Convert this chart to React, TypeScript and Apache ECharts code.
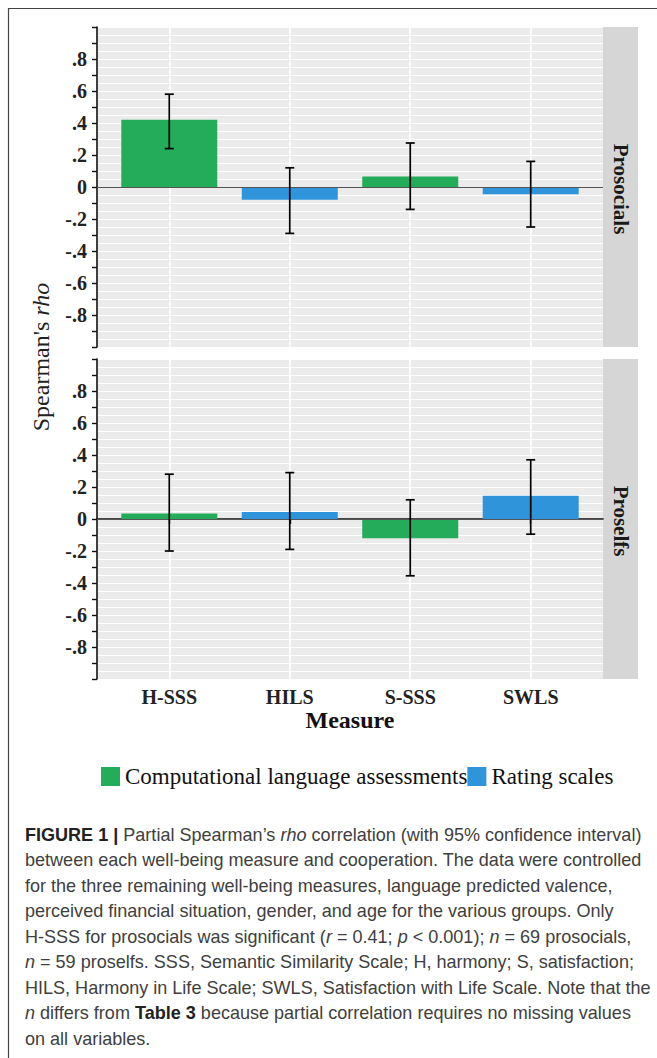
import React, { useEffect, useRef } from "react";
import * as echarts from "echarts";

const categories = ["H-SSS", "HILS", "S-SSS", "SWLS"];
const measureType = [
  "Computational language assessments",
  "Rating scales",
  "Computational language assessments",
  "Rating scales",
];
const seriesNames = ["Computational language assessments", "Rating scales"];
const seriesColors = ["#24AC5A", "#3094DA"];
const panelNames = ["Prosocials", "Proselfs"];

const prosocialRho = [0.42, -0.08, 0.065, -0.045];
const prosocialLow = [0.24, -0.29, -0.14, -0.25];
const prosocialHigh = [0.58, 0.12, 0.275, 0.16];

const proselfRho = [0.035, 0.044, -0.12, 0.145];
const proselfLow = [-0.2, -0.19, -0.355, -0.095];
const proselfHigh = [0.28, 0.29, 0.12, 0.37];

const captionLines = [
  "{b|FIGURE 1 |} Partial Spearman’s {i|rho} correlation (with 95% confidence interval)",
  "between each well-being measure and cooperation. The data were controlled",
  "for the three remaining well-being measures, language predicted valence,",
  "perceived financial situation, gender, and age for the various groups. Only",
  "H-SSS for prosocials was significant ({i|r} = 0.41; {i|p} < 0.001); {i|n} = 69 prosocials,",
  "{i|n} = 59 proselfs. SSS, Semantic Similarity Scale; H, harmony; S, satisfaction;",
  "HILS, Harmony in Life Scale; SWLS, Satisfaction with Life Scale. Note that the",
  "{i|n} differs from {b|Table 3} because partial correlation requires no missing values",
  "on all variables.",
];

const SERIF = "'Liberation Serif', 'Times New Roman', serif";
const SANS = "'Liberation Sans', Arial, sans-serif";

const panelValues = [
  { rho: prosocialRho, low: prosocialLow, high: prosocialHigh },
  { rho: proselfRho, low: proselfLow, high: proselfHigh },
];

const GRID_LEFT = 97;
const GRID_W = 506;
const GRID_H = 320;
const GRID_TOPS = [27, 359];

function yLabel(v: number): string {
  const r = Math.round(v * 10);
  if (Math.abs(r) >= 10 || r % 2 !== 0) return "";
  if (r === 0) return "0";
  return (r < 0 ? "-" : "") + "." + Math.abs(r);
}

export default function App() {
  const ref = useRef<HTMLDivElement>(null);

  useEffect(() => {
    if (!ref.current) return;
    const chart = echarts.init(ref.current, undefined, { renderer: "svg" });

    const grids = GRID_TOPS.map((top) => ({
      left: GRID_LEFT,
      top,
      width: GRID_W,
      height: GRID_H,
      show: true,
      backgroundColor: "#EBEBEB",
      borderWidth: 0,
    }));

    const xAxes = [0, 1].map((i) => ({
      type: "value",
      gridIndex: i,
      min: 0.4,
      max: 4.6,
      name: i === 1 ? "Measure" : "",
      nameLocation: "middle",
      nameGap: 27,
      nameTextStyle: { fontFamily: SERIF, fontWeight: "bold", fontSize: 24, color: "#111" },
      axisLine: { show: i === 1, lineStyle: { color: "#111", width: 1.6 } },
      axisTick: { show: i === 1, length: 5, customValues: [1, 2, 3, 4], lineStyle: { color: "#111", width: 1.4 } },
      axisLabel: {
        show: i === 1,
        customValues: [1, 2, 3, 4],
        margin: 8,
        fontFamily: SERIF,
        fontWeight: "bold",
        fontSize: 20,
        color: "#222",
        formatter: (v: number) => categories[Math.round(v) - 1] ?? "",
      },
      splitLine: { show: true, lineStyle: { color: "#FFFFFF", width: 1.6 } },
    }));

    const yAxes = [0, 1].map((i) => ({
      type: "value",
      gridIndex: i,
      min: -1,
      max: 1,
      interval: 0.1,
      axisLine: { show: true, lineStyle: { color: "#111", width: 1.6 } },
      axisTick: { show: true, length: 5, lineStyle: { color: "#111", width: 1.4 } },
      axisLabel: {
        margin: 10,
        fontFamily: SERIF,
        fontWeight: "bold",
        fontSize: 20,
        color: "#222",
        formatter: yLabel,
      },
      splitLine: { show: true, lineStyle: { color: "#FFFFFF", width: 1.2 } },
      minorTick: { show: false, splitNumber: 2 },
      minorSplitLine: { show: true, lineStyle: { color: "#FFFFFF", width: 1 } },
    }));

    const series: any[] = [];
    panelValues.forEach((p, pi) => {
      seriesNames.forEach((name, si) => {
        const data: number[][] = [];
        categories.forEach((_, ci) => {
          if (measureType[ci] === name) data.push([ci + 1, p.rho[ci]]);
        });
        series.push({
          name,
          type: "bar",
          xAxisIndex: pi,
          yAxisIndex: pi,
          barWidth: 96,
          barGap: "-100%",
          itemStyle: { color: seriesColors[si] },
          data,
          z: 2,
          markLine:
            si === 0
              ? {
                  silent: true,
                  symbol: "none",
                  label: { show: false },
                  lineStyle: { color: "#555", width: 1, type: "solid" },
                  data: [{ yAxis: 0 }],
                  z: 3,
                }
              : undefined,
        });
      });
      series.push({
        name: "CI " + panelNames[pi],
        type: "custom",
        xAxisIndex: pi,
        yAxisIndex: pi,
        z: 5,
        encode: { x: 0, y: [1, 2] },
        data: categories.map((_, ci) => [ci + 1, p.low[ci], p.high[ci]]),
        renderItem: (params: any, api: any) => {
          const x = api.value(0);
          const lo = api.coord([x, api.value(1)]);
          const hi = api.coord([x, api.value(2)]);
          const hw = 4.5;
          const style = { stroke: "#000", lineWidth: 1.7 };
          return {
            type: "group",
            children: [
              { type: "line", shape: { x1: hi[0], y1: hi[1], x2: lo[0], y2: lo[1] }, style },
              { type: "line", shape: { x1: hi[0] - hw, y1: hi[1], x2: hi[0] + hw, y2: hi[1] }, style },
              { type: "line", shape: { x1: lo[0] - hw, y1: lo[1], x2: lo[0] + hw, y2: lo[1] }, style },
            ],
          };
        },
      });
    });

    const graphics: any[] = [
      { type: "line", shape: { x1: 8, y1: 8.5, x2: 657, y2: 8.5 }, style: { stroke: "#444", lineWidth: 1.2 } },
      { type: "line", shape: { x1: 8.5, y1: 8, x2: 8.5, y2: 1058 }, style: { stroke: "#444", lineWidth: 1.2 } },
      {
        type: "text",
        x: 41,
        y: 357,
        rotation: Math.PI / 2,
        style: {
          text: "{a|Spearman's }{b|rho}",
          align: "center",
          verticalAlign: "middle",
          rich: {
            a: { fontFamily: SERIF, fontSize: 24, fill: "#222" },
            b: { fontFamily: SERIF, fontSize: 24, fontStyle: "italic", fill: "#222" },
          },
        },
      },
    ];

    GRID_TOPS.forEach((top, pi) => {
      graphics.push({
        type: "rect",
        shape: { x: GRID_LEFT + GRID_W, y: top, width: 35, height: GRID_H },
        style: { fill: "#D6D6D6" },
      });
      graphics.push({
        type: "text",
        x: GRID_LEFT + GRID_W + 17.5,
        y: top + GRID_H / 2 + 2,
        rotation: -Math.PI / 2,
        style: {
          text: panelNames[pi],
          align: "center",
          verticalAlign: "middle",
          fontFamily: SERIF,
          fontWeight: "bold",
          fontSize: 21,
          fill: "#1a1a1a",
        },
      });
    });

    captionLines.forEach((line, li) => {
      graphics.push({
        type: "text",
        x: 25,
        y: 834 + li * 25.5,
        scaleX: 0.95,
        style: {
          text: line,
          align: "left",
          verticalAlign: "middle",
          fontFamily: SANS,
          fontSize: 19,
          fill: "#404040",
          rich: {
            b: { fontFamily: SANS, fontSize: 19, fontWeight: "bold", fill: "#222" },
            i: { fontFamily: SANS, fontSize: 19, fontStyle: "italic", fill: "#404040" },
          },
        },
      });
    });

    chart.setOption({
      animation: false,
      grid: grids,
      xAxis: xAxes,
      yAxis: yAxes,
      legend: {
        data: seriesNames,
        left: 96,
        top: 760,
        itemWidth: 19,
        itemHeight: 19,
        itemGap: 0,
        icon: "rect",
        selectedMode: false,
        textStyle: { fontFamily: SERIF, fontSize: 23, color: "#111" },
      },
      series,
      graphic: graphics,
    });

    return () => chart.dispose();
  }, []);

  return (
    <div
      ref={ref}
      style={{ position: "absolute", left: 0, top: 0, width: 657, height: 1058, background: "#fff" }}
    />
  );
}
